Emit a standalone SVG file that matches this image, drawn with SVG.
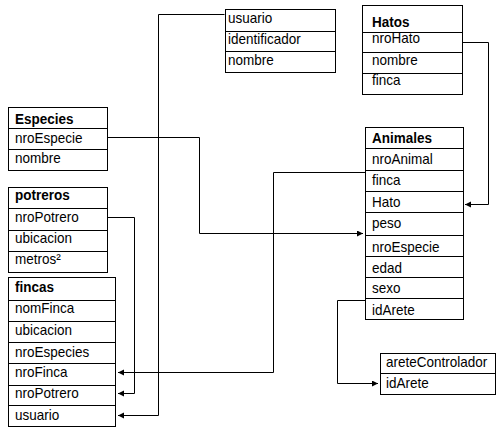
<svg xmlns="http://www.w3.org/2000/svg" width="496" height="428" viewBox="0 0 496 428">
<style>
.c{fill:#fff;stroke:#000;stroke-width:1}
.t{font-family:"Liberation Sans",Arial,sans-serif;font-size:15px;fill:#000}
.b{font-weight:bold}
.w{fill:none;stroke:#000;stroke-width:1}
</style>
<defs>
<marker id="ah" markerUnits="userSpaceOnUse" markerWidth="7" markerHeight="7" refX="6" refY="3" orient="auto">
<path d="M0,0 L6,3 L0,6 z" fill="#000"/>
</marker>
</defs>
<rect width="496" height="428" fill="#fff"/>
<g id="connectors">
<polyline class="w" points="224.5,14.5 158.5,14.5 158.5,415.5 118,415.5" marker-end="url(#ah)"/>
<polyline class="w" points="107.5,137.5 199.5,137.5 199.5,233.5 363,233.5" marker-end="url(#ah)"/>
<polyline class="w" points="462.5,42.5 488.5,42.5 488.5,204.5 465,204.5" marker-end="url(#ah)"/>
<polyline class="w" points="365.5,172.5 273.5,172.5 273.5,372.5 118,372.5" marker-end="url(#ah)"/>
<polyline class="w" points="107.5,217.5 134.5,217.5 134.5,393.5 118,393.5" marker-end="url(#ah)"/>
<polyline class="w" points="365.5,300.5 337.5,300.5 337.5,383.5 378,383.5" marker-end="url(#ah)"/>
</g>
<g id="usuario">
<rect class="c" x="225.5" y="9.5" width="110" height="22"/>
<rect class="c" x="225.5" y="31.5" width="110" height="20"/>
<rect class="c" x="225.5" y="51.5" width="110" height="21"/>
<g transform="scale(0.9,1)">
<text class="t" x="253.3" y="23">usuario</text>
<text class="t" x="253.3" y="44">identificador</text>
<text class="t" x="253.3" y="65">nombre</text>
</g>
</g>
<g id="hatos">
<rect class="c" x="362.5" y="5.5" width="100" height="27"/>
<rect class="c" x="362.5" y="32.5" width="100" height="20"/>
<rect class="c" x="362.5" y="52.5" width="100" height="21"/>
<rect class="c" x="362.5" y="73.5" width="100" height="21"/>
<g transform="scale(0.9,1)">
<text class="t b" x="413.3" y="27">Hatos</text>
<text class="t" x="413.3" y="43">nroHato</text>
<text class="t" x="413.3" y="65">nombre</text>
<text class="t" x="413.3" y="85">finca</text>
</g>
</g>
<g id="especies">
<rect class="c" x="8.5" y="107.5" width="99" height="21"/>
<rect class="c" x="8.5" y="128.5" width="99" height="21"/>
<rect class="c" x="8.5" y="149.5" width="99" height="21"/>
<g transform="scale(0.9,1)">
<text class="t b" x="16.7" y="124">Especies</text>
<text class="t" x="16.7" y="143">nroEspecie</text>
<text class="t" x="16.7" y="163">nombre</text>
</g>
</g>
<g id="potreros">
<rect class="c" x="8.5" y="187.5" width="99" height="21"/>
<rect class="c" x="8.5" y="208.5" width="99" height="22"/>
<rect class="c" x="8.5" y="230.5" width="99" height="21"/>
<rect class="c" x="8.5" y="251.5" width="99" height="21"/>
<g transform="scale(0.9,1)">
<text class="t b" x="16.7" y="200">potreros</text>
<text class="t" x="16.7" y="222">nroPotrero</text>
<text class="t" x="16.7" y="243">ubicacion</text>
<text class="t" x="16.7" y="264">metros²</text>
</g>
</g>
<g id="fincas">
<rect class="c" x="8.5" y="277.5" width="107" height="23"/>
<rect class="c" x="8.5" y="300.5" width="107" height="21"/>
<rect class="c" x="8.5" y="321.5" width="107" height="21"/>
<rect class="c" x="8.5" y="342.5" width="107" height="21"/>
<rect class="c" x="8.5" y="363.5" width="107" height="22"/>
<rect class="c" x="8.5" y="385.5" width="107" height="20"/>
<rect class="c" x="8.5" y="405.5" width="107" height="21"/>
<g transform="scale(0.9,1)">
<text class="t b" x="16.7" y="292">fincas</text>
<text class="t" x="16.7" y="313">nomFinca</text>
<text class="t" x="16.7" y="335">ubicacion</text>
<text class="t" x="16.7" y="357">nroEspecies</text>
<text class="t" x="16.7" y="377">nroFinca</text>
<text class="t" x="16.7" y="398">nroPotrero</text>
<text class="t" x="16.7" y="420">usuario</text>
</g>
</g>
<g id="animales">
<rect class="c" x="365.5" y="127.5" width="98" height="21"/>
<rect class="c" x="365.5" y="148.5" width="98" height="22"/>
<rect class="c" x="365.5" y="170.5" width="98" height="21"/>
<rect class="c" x="365.5" y="191.5" width="98" height="21"/>
<rect class="c" x="365.5" y="212.5" width="98" height="23"/>
<rect class="c" x="365.5" y="235.5" width="98" height="21"/>
<rect class="c" x="365.5" y="256.5" width="98" height="21"/>
<rect class="c" x="365.5" y="277.5" width="98" height="21"/>
<rect class="c" x="365.5" y="298.5" width="98" height="21"/>
<g transform="scale(0.9,1)">
<text class="t b" x="413.3" y="143">Animales</text>
<text class="t" x="413.3" y="164">nroAnimal</text>
<text class="t" x="413.3" y="185">finca</text>
<text class="t" x="413.3" y="207">Hato</text>
<text class="t" x="413.3" y="228">peso</text>
<text class="t" x="413.3" y="252">nroEspecie</text>
<text class="t" x="413.3" y="273">edad</text>
<text class="t" x="413.3" y="293">sexo</text>
<text class="t" x="413.3" y="315">idArete</text>
</g>
</g>
<g id="areteControlador">
<rect class="c" x="380.5" y="353.5" width="115" height="20"/>
<rect class="c" x="380.5" y="373.5" width="115" height="21"/>
<g transform="scale(0.9,1)">
<text class="t" x="428.9" y="367">areteControlador</text>
<text class="t" x="428.9" y="388">idArete</text>
</g>
</g>
</svg>
